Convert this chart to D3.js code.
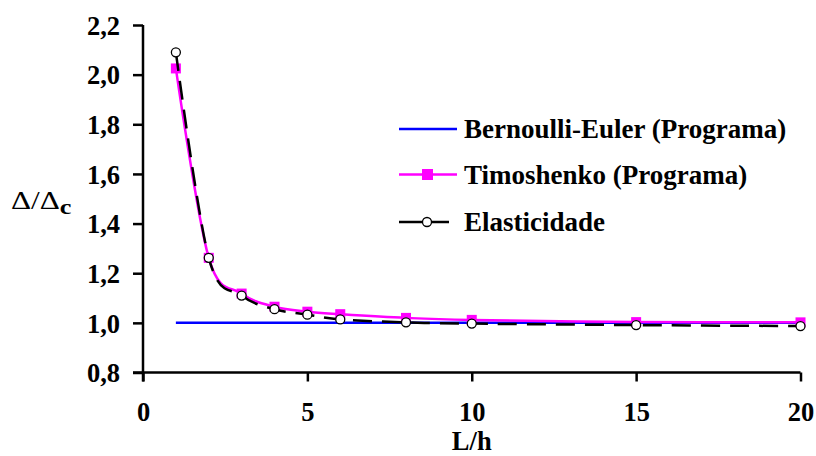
<!DOCTYPE html>
<html>
<head>
<meta charset="utf-8">
<script src="https://cdn.jsdelivr.net/npm/d3@7"></script>
<style>
  body { margin: 0; background: #fff; }
</style>
</head>
<body>
<svg id="chart" width="816" height="456"></svg>
<script>
// data
var ratios = [1, 2, 3, 4, 5, 6, 8, 10, 15, 20];
var bernoulli = [1, 1, 1, 1, 1, 1, 1, 1, 1, 1];
var timoshenko = [2.025, 1.262, 1.118, 1.065, 1.045, 1.035, 1.02, 1.012, 1.003, 1.002];
var elasticidade = [2.09, 1.262, 1.11, 1.055, 1.033, 1.014, 1.002, 0.997, 0.991, 0.987];
var xTicks = [0, 5, 10, 15, 20];
var yTicks = [0.8, 1.0, 1.2, 1.4, 1.6, 1.8, 2.0, 2.2];
var seriesNames = ["Bernoulli-Euler (Programa)", "Timoshenko (Programa)", "Elasticidade"];

var FONT = "'Liberation Serif'";

var svg = d3.select("#chart");

var x = d3.scaleLinear().domain([0, 20]).range([143, 800.5]);
var y = d3.scaleLinear().domain([0.8, 2.2]).range([372.5, 25]);

var fmt = function(d) { return d3.format(".1f")(d).replace(".", ","); };

// axes
var xAxis = svg.append("g")
  .attr("transform", "translate(0," + y(0.8) + ")")
  .call(d3.axisBottom(x).tickValues(xTicks).tickSize(9).tickPadding(21).tickFormat(d3.format("d")));

var yAxis = svg.append("g")
  .attr("transform", "translate(" + x(0) + ",0)")
  .call(d3.axisLeft(y).tickValues(yTicks).tickSize(10).tickPadding(13).tickFormat(fmt));

[xAxis, yAxis].forEach(function(ax) {
  ax.select(".domain").attr("stroke", "#000").attr("stroke-width", 2.5);
  ax.selectAll(".tick line").attr("stroke", "#000").attr("stroke-width", 2.5);
  ax.selectAll(".tick text")
    .attr("fill", "#000")
    .attr("font-family", FONT)
    .attr("font-weight", "bold")
    .attr("font-size", 26.5);
});
xAxis.select(".domain").attr("d", "M" + (x(0) - 10) + ",0H" + x(20));
yAxis.select(".domain").attr("d", "M0," + (y(0.8) + 9) + "V" + y(2.2));
yAxis.selectAll(".tick text").attr("dy", "0.35em");

// axis titles
svg.append("text")
  .attr("x", x(10)).attr("y", 450)
  .attr("text-anchor", "middle")
  .attr("font-family", FONT).attr("font-weight", "bold")
  .attr("font-size", 26.5)
  .text("L/h");

var yTitle = svg.append("text")
  .attr("transform", "translate(11,209) scale(1.25,1)")
  .attr("font-family", FONT)
  .attr("font-size", 25);
yTitle.append("tspan").text("\u0394/\u0394");
yTitle.append("tspan").attr("font-weight", "bold").attr("font-size", 21).attr("dy", 5).text("c");

// series
var pts = function(vals) { return ratios.map(function(r, i) { return [r, vals[i]]; }); };
var line = d3.line()
  .x(function(d) { return x(d[0]); })
  .y(function(d) { return y(d[1]); })
  .curve(d3.curveCatmullRom.alpha(0));

svg.append("path")
  .attr("d", line(pts(bernoulli)))
  .attr("fill", "none").attr("stroke", "#0000ff").attr("stroke-width", 2.5);

svg.append("path")
  .attr("d", line(pts(timoshenko)))
  .attr("fill", "none").attr("stroke", "#ff00ff").attr("stroke-width", 2.5);

svg.append("g").selectAll("rect")
  .data(pts(timoshenko))
  .enter().append("rect")
  .attr("x", function(d) { return x(d[0]) - 5; })
  .attr("y", function(d) { return y(d[1]) - 5; })
  .attr("width", 10).attr("height", 10)
  .attr("fill", "#ff00ff");

svg.append("path")
  .attr("d", line(pts(elasticidade)))
  .attr("fill", "none").attr("stroke", "#000").attr("stroke-width", 2.5)
  .attr("stroke-dasharray", "19,10");

svg.append("g").selectAll("circle")
  .data(pts(elasticidade))
  .enter().append("circle")
  .attr("cx", function(d) { return x(d[0]); })
  .attr("cy", function(d) { return y(d[1]); })
  .attr("r", 4.5)
  .attr("fill", "#fff").attr("stroke", "#000").attr("stroke-width", 1.3);

// legend
var legend = svg.append("g").attr("transform", "translate(399,0)");
var rowsY = [129, 174.5, 222];

legend.append("line").attr("x1", 0).attr("x2", 58).attr("y1", rowsY[0]).attr("y2", rowsY[0])
  .attr("stroke", "#0000ff").attr("stroke-width", 2.5);

legend.append("line").attr("x1", 0).attr("x2", 58).attr("y1", rowsY[1]).attr("y2", rowsY[1])
  .attr("stroke", "#ff00ff").attr("stroke-width", 2.5);
legend.append("rect").attr("x", 23).attr("y", rowsY[1] - 5.5).attr("width", 11).attr("height", 11)
  .attr("fill", "#ff00ff");

legend.append("line").attr("x1", 0).attr("x2", 50).attr("y1", rowsY[2]).attr("y2", rowsY[2])
  .attr("stroke", "#000").attr("stroke-width", 2.5);
legend.append("circle").attr("cx", 28).attr("cy", rowsY[2]).attr("r", 4.5)
  .attr("fill", "#fff").attr("stroke", "#000").attr("stroke-width", 1.3);

legend.selectAll("text.lbl")
  .data(seriesNames)
  .enter().append("text")
  .attr("class", "lbl")
  .attr("x", 65)
  .attr("y", function(d, i) { return rowsY[i]; })
  .attr("dy", "0.35em")
  .attr("font-family", FONT).attr("font-weight", "bold")
  .attr("font-size", 27)
  .text(function(d) { return d; });
</script>
</body>
</html>
